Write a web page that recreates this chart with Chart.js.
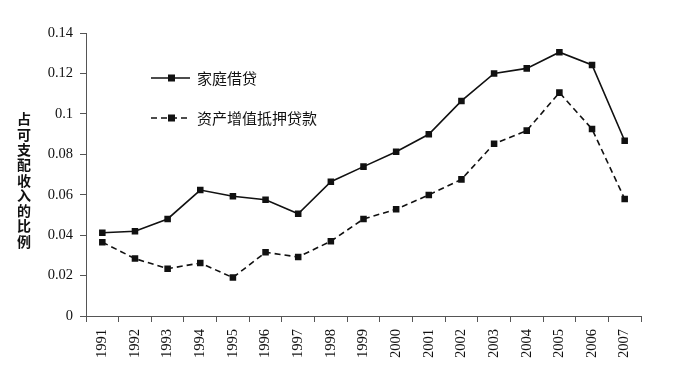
<!DOCTYPE html>
<html><head><meta charset="utf-8">
<script src="https://cdn.jsdelivr.net/npm/chart.js@4.4.1/dist/chart.umd.min.js"></script>
<style>html,body{margin:0;padding:0;background:#fff}#wrap{width:682px;height:371px;position:relative}</style>
</head><body><div id="wrap"><canvas id="c" width="682" height="371"></canvas></div>
<script>
const years = ["1991","1992","1993","1994","1995","1996","1997","1998","1999","2000","2001","2002","2003","2004","2005","2006","2007"];
const householdDebt = [0.0412,0.0419,0.048,0.0623,0.0592,0.0575,0.0506,0.0664,0.0739,0.0813,0.0899,0.1064,0.120,0.1225,0.1305,0.1242,0.0867];
const equityLoans = [0.0365,0.0284,0.0234,0.0262,0.0190,0.0315,0.0292,0.0370,0.048,0.0528,0.0599,0.0676,0.0852,0.0917,0.1105,0.0925,0.0579];
const seriesNames = ["家庭借贷","资产增值抵押贷款"];
const yTitle = "占可支配收入的比例";

const customDraw = {
  id:'customDraw',
  afterDraw(chart){
    const ctx = chart.ctx;
    ctx.save();
    ctx.fillStyle = '#111';
    ctx.font = 'bold 14px "Noto Sans CJK SC"';
    ctx.textAlign = 'center';
    ctx.textBaseline = 'middle';
    const chars = Array.from(yTitle);
    chars.forEach((ch,i)=>ctx.fillText(ch, 24, 119 + i*15.3));
    const items = [{y:78, dash:[]},{y:118, dash:[6,4]}];
    items.forEach((it,i)=>{
      ctx.strokeStyle = '#111';
      ctx.lineWidth = 1.6;
      ctx.setLineDash(it.dash);
      ctx.beginPath(); ctx.moveTo(151, it.y); ctx.lineTo(190, it.y); ctx.stroke();
      ctx.setLineDash([]);
      ctx.fillStyle = '#111';
      ctx.fillRect(168, it.y-3.5, 7, 7);
      ctx.font = '15px "Noto Sans CJK SC"';
      ctx.textAlign = 'left';
      ctx.fillText(seriesNames[i], 197, it.y);
    });
    ctx.restore();
  }
};

new Chart(document.getElementById('c'), {
  type:'line',
  data:{
    labels: years,
    datasets:[
      {label:seriesNames[0], data:householdDebt, borderColor:'#111', backgroundColor:'#111', borderWidth:1.6, pointStyle:'rect', pointRadius:3.5, tension:0},
      {label:seriesNames[1], data:equityLoans, borderColor:'#111', backgroundColor:'#111', borderWidth:1.6, borderDash:[6,4], pointStyle:'rect', pointRadius:3.5, tension:0}
    ]
  },
  options:{
    responsive:false, animation:false,
    layout:{padding:{left:0, top:33, right:41, bottom:0}},
    plugins:{legend:{display:false}, tooltip:{enabled:false}},
    scales:{
      x:{
        offset:true,
        grid:{offset:true, drawOnChartArea:false, tickLength:6, color:'#555'},
        border:{color:'#555', width:1},
        ticks:{maxRotation:90, minRotation:90, padding:7, color:'#111', font:{family:'"Liberation Serif"', size:14.5}},
        afterFit(s){ s.height = 55; }
      },
      y:{
        min:0, max:0.14,
        grid:{drawOnChartArea:false, tickLength:6, color:'#555'},
        border:{color:'#555', width:1},
        ticks:{stepSize:0.02, padding:7, color:'#111', font:{family:'"Liberation Serif"', size:14.5},
          callback:(v)=>String(+(+v).toFixed(2))},
        afterFit(s){ s.width = 86; }
      }
    }
  },
  plugins:[customDraw]
});
</script></body></html>
